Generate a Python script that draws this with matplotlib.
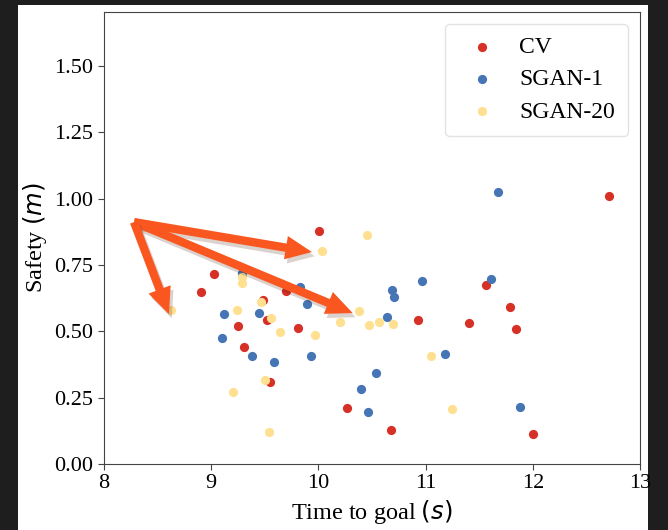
import numpy as np
import matplotlib
matplotlib.use("Agg")
import matplotlib.pyplot as plt
import matplotlib.patches as mpatches
import matplotlib.patheffects as pe

# values
cv_time = [8.905, 9.026, 9.250, 9.306, 9.483, 9.521, 9.549, 9.698, 9.810, 10.006,
           10.267, 10.677, 10.929, 11.405, 11.563, 11.787, 11.843, 12.002, 12.711]
cv_safety = [0.648, 0.716, 0.520, 0.441, 0.618, 0.543, 0.309, 0.652, 0.513, 0.878,
             0.211, 0.128, 0.543, 0.531, 0.675, 0.592, 0.509, 0.113, 1.010]

sgan1_time = [9.101, 9.119, 9.287, 9.381, 9.446, 9.586, 9.828, 9.894, 9.931, 10.397,
              10.463, 10.537, 10.640, 10.687, 10.705, 10.966, 11.181, 11.610, 11.675, 11.881]
sgan1_safety = [0.475, 0.565, 0.720, 0.407, 0.569, 0.384, 0.667, 0.603, 0.407, 0.283,
                0.196, 0.343, 0.554, 0.656, 0.629, 0.690, 0.415, 0.697, 1.025, 0.215]

sgan20_time = [8.625, 9.203, 9.241, 9.287, 9.287, 9.465, 9.502, 9.539, 9.558, 9.642,
               9.968, 10.034, 10.201, 10.379, 10.453, 10.472, 10.565, 10.696, 11.050, 11.246]
sgan20_safety = [0.580, 0.271, 0.580, 0.705, 0.682, 0.611, 0.317, 0.121, 0.550, 0.498,
                 0.486, 0.803, 0.535, 0.577, 0.863, 0.524, 0.535, 0.528, 0.407, 0.207]

# hand-drawn arrows: common tail, three heads
arrow_tail = (8.28, 0.912)
arrow_heads = [(9.94, 0.799), (10.32, 0.569), (8.606, 0.565)]

plt.rcParams["font.family"] = ["Liberation Serif", "DejaVu Serif"]
plt.rcParams["mathtext.fontset"] = "dejavusans"

fig = plt.figure(figsize=(6.68, 5.30), dpi=100, facecolor="#1e1e1e")
fig.patches.append(mpatches.Rectangle((18 / 668, 0), 630 / 668, 1 - 5 / 530,
                                      transform=fig.transFigure, facecolor="white",
                                      edgecolor="none", zorder=-10))
ax = fig.add_axes([104 / 668, 1 - 464 / 530, 536 / 668, 452 / 530])

ax.scatter(cv_time, cv_safety, s=44, color="#d73027", linewidths=0, label="CV", zorder=3)
ax.scatter(sgan1_time, sgan1_safety, s=44, color="#4575b4", linewidths=0, label="SGAN-1", zorder=3)
ax.scatter(sgan20_time, sgan20_safety, s=44, color="#fee090", linewidths=0, label="SGAN-20", zorder=3)

# filled arrows with a soft drop shadow, like the ones pasted on the original
for head in arrow_heads:
    ax.annotate("", xy=head, xytext=arrow_tail, zorder=5,
                arrowprops=dict(arrowstyle="simple,head_length=0.95,head_width=0.85,tail_width=0.3",
                                mutation_scale=20, facecolor="#f9571f", edgecolor="none",
                                shrinkA=0, shrinkB=0,
                                path_effects=[pe.SimplePatchShadow(offset=(2, -3), alpha=0.2),
                                              pe.Normal()]))

ax.set_xlim(8, 13)
ax.set_ylim(0, 1.704)
ax.set_xticks([8, 9, 10, 11, 12, 13])
ax.set_yticks([0, 0.25, 0.5, 0.75, 1.0, 1.25, 1.5])
ax.set_yticklabels(["0.00", "0.25", "0.50", "0.75", "1.00", "1.25", "1.50"])
ax.tick_params(labelsize=16, length=4, width=0.8, color="#444")
for sp in ax.spines.values():
    sp.set_color("#444")

ax.set_xlabel("Time to goal $(s)$", fontsize=17.5, labelpad=3)
ax.set_ylabel("Safety $(m)$", fontsize=17.5, labelpad=4)

leg = ax.legend(loc="upper right", fontsize=17, frameon=True, handletextpad=0.6,
                borderpad=0.55, labelspacing=0.45, markerscale=1.0)
leg.get_frame().set_edgecolor("#dddddd")

fig.savefig("out.png", dpi=100, facecolor=fig.get_facecolor())
